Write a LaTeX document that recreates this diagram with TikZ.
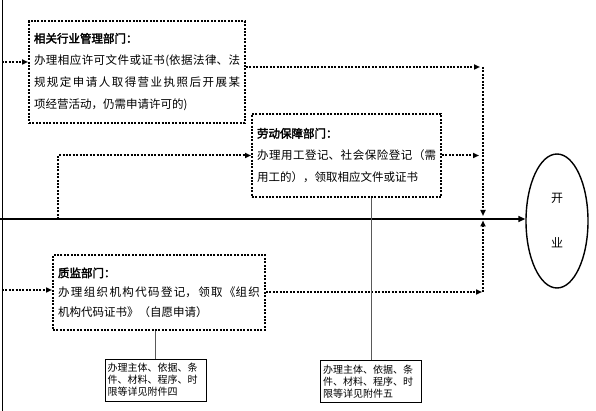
\documentclass[tikz,border=0pt]{standalone}
\usepackage{fontspec}
\setmainfont{Noto Sans CJK SC}[AutoFakeBold=2.5]
\usetikzlibrary{arrows.meta,shapes.geometric}
\XeTeXlinebreaklocale "zh"
\XeTeXlinebreakskip=0pt plus 2pt

\begin{document}
\begin{tikzpicture}[
    x=1pt, y=-1pt,
    dept/.style={rectangle, draw, line width=2pt, dash pattern=on 2pt off 1.4pt,
        inner sep=5pt, align=justify, font=\fontsize{11.5}{22}\selectfont},
    note/.style={rectangle, draw, line width=0.8pt, inner sep=2pt, minimum width=101pt,
        minimum height=42pt, text width=96pt, align=left, font=\fontsize{10}{12}\selectfont},
    goal/.style={ellipse, draw, line width=1.4pt, minimum width=62pt, minimum height=134pt,
        inner sep=0pt, align=center, font=\fontsize{12}{45}\selectfont},
    dotarrow/.style={line width=2pt, dash pattern=on 2pt off 1.4pt, -{Triangle[length=6pt,width=5pt]}},
    mainline/.style={line width=1.4pt, -{Triangle[length=7pt,width=6pt]}},
    link/.style={draw=black!65, line width=1pt}
]
\useasboundingbox (0,0) rectangle (596,411);

\node[dept, text width=206pt, minimum height=102pt] (hangye) at (137,72)
    {\textbf{相关行业管理部门：}\par 办理相应许可文件或证书(依据法律、法\linebreak 规规定申请人取得营业执照后开展某\linebreak 项经营活动，仍需申请许可的)};
\node[dept, text width=179pt, minimum height=83pt] (laodong) at (346.5,155.5)
    {\textbf{劳动保障部门：}\par 办理用工登记、社会保险登记（需\linebreak 用工的），领取相应文件或证书};
\node[dept, text width=202pt, minimum height=75pt, font=\fontsize{11.5}{19.5}\selectfont] (zhijian) at (159,292.5)
    {\textbf{质监部门：}\par 办理组织机构代码登记，领取《组织\linebreak 机构代码证书》（自愿申请）};

\node[note] (fujian4) at (155.5,380) {办理主体、依据、条\\件、材料、程序、时\\限等详见附件四};
\node[note] (fujian5) at (371,381.5) {办理主体、依据、条\\件、材料、程序、时\\限等详见附件五};

\node[goal] (kaiye) at (557,221) {开\\业};

\coordinate (top) at (2,0);
\coordinate (bottom) at (2,411);
\coordinate (start) at (0,219);
\coordinate (branch) at (58,219);
\coordinate (merge) at (483,219);
\coordinate (in1) at (2,62);
\coordinate (in3) at (2,290);
\coordinate (hout) at (483,67);
\coordinate (zout) at (483,292);

\draw[line width=1pt] (top) -- (bottom);
\draw[mainline] (start) -- (start -| kaiye.west);

\draw[dotarrow] (in1) -- (in1 -| hangye.west);
\draw[dotarrow, shorten >=3pt] (hangye.east |- hout) -- (hout);
\draw[dotarrow, shorten >=3pt] (hout) -- (merge);
\draw[dotarrow] (branch) |- (laodong.west);
\draw[dotarrow, shorten >=4pt] (laodong.east) -- (laodong.east -| merge);
\draw[dotarrow] (in3) -- (in3 -| zhijian.west);
\draw[dotarrow, shorten >=1pt] (zhijian.east |- zout) -- (zout);
\draw[dotarrow, shorten >=1.5pt] (zout) -- (merge);

\draw[link] (fujian4.north |- zhijian.south) -- (fujian4.north);
\draw[link] (fujian5.north |- laodong.south) -- (fujian5.north);
\end{tikzpicture}
\end{document}
